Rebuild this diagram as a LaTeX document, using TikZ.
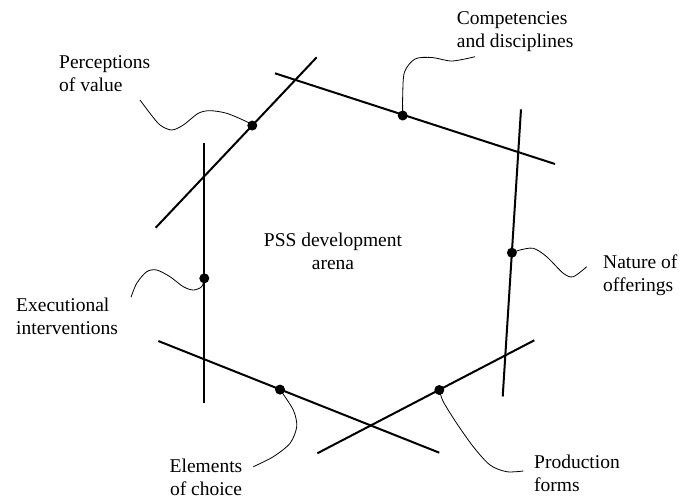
\documentclass[tikz,border=0pt]{standalone}
\usepackage{fontspec}
\setmainfont{Liberation Serif}
\begin{document}
\begin{tikzpicture}[x=1pt,y=-1pt,
  axisline/.style={line width=2pt},
  leader/.style={line width=0.8pt},
  dotmark/.style={circle,fill=black,inner sep=0pt,minimum size=10pt},
  lbl/.style={inner sep=0pt,font=\fontsize{19.5}{23}\selectfont}]
\useasboundingbox (0,0) rectangle (680,499);
% axis line end points
\coordinate (c1) at (275,73.3);   \coordinate (c2) at (555,164);
\coordinate (p1) at (155.7,227.7); \coordinate (p2) at (316.7,57.3);
\coordinate (e1) at (204.3,143);   \coordinate (e2) at (204.3,403.3);
\coordinate (n1) at (521,109.3);   \coordinate (n2) at (502.7,396.5);
\coordinate (l1) at (158.3,341);   \coordinate (l2) at (439.3,452.7);
\coordinate (r1) at (317.3,453.3); \coordinate (r2) at (534.3,340.3);
\draw[axisline] (c1) -- (c2);
\draw[axisline] (p1) -- (p2);
\draw[axisline] (e1) -- (e2);
\draw[axisline] (n1) -- (n2);
\draw[axisline] (l1) -- (l2);
\draw[axisline] (r1) -- (r2);
% dots
\node[dotmark] (dc) at (402.7,115.5) {};
\node[dotmark] (dp) at (252.3,125.5) {};
\node[dotmark] (de) at (204.3,278.3) {};
\node[dotmark] (dn) at (511.9,252.7) {};
\node[dotmark] (del) at (280,389.6) {};
\node[dotmark] (dpr) at (439.3,390) {};
% labels
\node[lbl,anchor=north west,align=left] (tcomp) at (456.7,11.6) {Competencies\\and disciplines};
\node[lbl,anchor=north west,align=left] (tperc) at (59,55.6) {Perceptions\\of value};
\node[lbl,anchor=north west,align=left] (texec) at (16,297.6) {Executional\\interventions};
\node[lbl,anchor=north west,align=left] (tnat) at (603,254.6) {Nature of\\offerings};
\node[lbl,anchor=north west,align=left] (tprod) at (534,455) {Production\\forms};
\node[lbl,anchor=north,align=center] (telem) at (206,458.6) {Elements\\of choice};
\node[lbl,align=center] (tpss) at (333,251) {PSS development\\arena};
% leaders
\draw[leader] plot[smooth] coordinates {(dc.center) (402.7,95) (404.5,72) (415,59) (432,57.5) (452,61) (475,56.7)};
\draw[leader] plot[smooth] coordinates {(140,100) (150,113.3) (160,125) (171.7,130) (183.3,125) (198.3,113.3) (210,110.7) (226.7,113.3) (246.7,121.7) (dp.center)};
\draw[leader] plot[smooth] coordinates {(131,297.3) (136.7,283.3) (146.7,271.7) (156.7,270) (170,276.7) (183.3,286.7) (193.3,290) (201.7,286.7) (de.center)};
\draw[leader] plot[smooth] coordinates {(dn.center) (520,250) (533.3,248.3) (546.7,256.7) (563.3,273.3) (573.3,276.7) (586.7,266.7)};
\draw[leader] plot[smooth] coordinates {(del.center) (293.3,410) (296.7,426.7) (290,443.3) (273.3,456.7) (253.3,466.7)};
\draw[leader] plot[smooth] coordinates {(dpr.center) (443.3,401.7) (456.7,423.3) (473.3,446.7) (490,465) (506.7,471.7) (523.3,471)};
\end{tikzpicture}
\end{document}
